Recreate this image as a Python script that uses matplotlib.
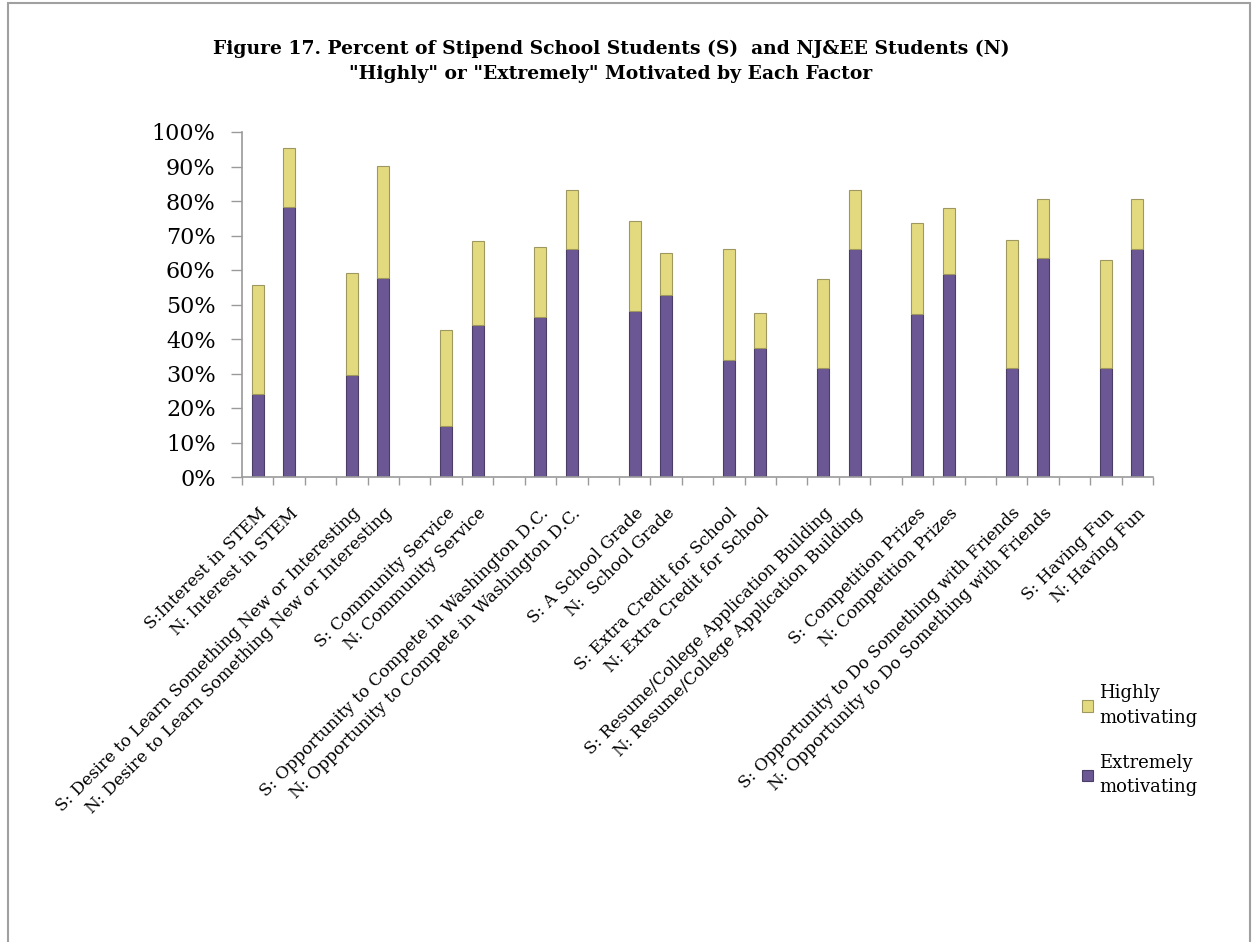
import matplotlib
matplotlib.use("Agg")
import matplotlib.pyplot as plt
from matplotlib.patches import Rectangle
import matplotlib.transforms as mtransforms
import numpy as np

# ---- data ----
factors = [
    ("S:Interest in STEM", "N: Interest in STEM"),
    ("S: Desire to Learn Something New or Interesting", "N: Desire to Learn Something New or Interesting"),
    ("S: Community Service", "N: Community Service"),
    ("S: Opportunity to Compete in Washington D.C.", "N: Opportunity to Compete in Washington D.C."),
    ("S: A School Grade", "N:  School Grade"),
    ("S: Extra Credit for School", "N: Extra Credit for School"),
    ("S: Resume/College Application Building", "N: Resume/College Application Building"),
    ("S: Competition Prizes", "N: Competition Prizes"),
    ("S: Opportunity to Do Something with Friends", "N: Opportunity to Do Something with Friends"),
    ("S: Having Fun", "N: Having Fun"),
]
# Extremely motivating (%) for S and N in each factor
extremely_S = [24.0, 29.5, 14.8, 46.4, 48.2, 34.0, 31.5, 47.2, 31.5, 31.5]
extremely_N = [78.3, 57.7, 44.1, 66.0, 52.7, 37.5, 66.1, 58.8, 63.6, 66.1]
# Total (Extremely + Highly) (%)
total_S = [55.6, 59.2, 42.5, 66.7, 74.3, 66.2, 57.4, 73.6, 68.7, 62.9]
total_N = [95.4, 90.2, 68.4, 83.1, 65.0, 47.5, 83.1, 78.1, 80.6, 80.6]
yticks = [0, 10, 20, 30, 40, 50, 60, 70, 80, 90, 100]
title = ('Figure 17. Percent of Stipend School Students (S)  and NJ&EE Students (N)\n'
         '"Highly" or "Extremely" Motivated by Each Factor')

# build category list (S, N, blank) ...
labels, ext, high = [], [], []
for i, (s, n) in enumerate(factors):
    labels += [s, n]
    ext += [extremely_S[i], extremely_N[i]]
    high += [total_S[i] - extremely_S[i], total_N[i] - extremely_N[i]]
    if i < len(factors) - 1:
        labels.append("")
        ext.append(np.nan)
        high.append(np.nan)
ext = np.array(ext) / 100
high = np.array(high) / 100
x = np.arange(len(labels))

purple = "#6b5793"
yellow = "#e3da7f"
serif = "DejaVu Serif"

fig = plt.figure(figsize=(12.57, 9.42), dpi=100)
ax = fig.add_axes([242/1257, 1-477/942, (1153-242)/1257, (477-132)/942])

bw = 0.38
b1 = ax.bar(x, np.nan_to_num(ext), width=bw, color=purple, edgecolor="#4a3d66",
            linewidth=0.8, label="Extremely\nmotivating")
b2 = ax.bar(x, np.nan_to_num(high), bottom=np.nan_to_num(ext), width=bw, color=yellow,
            edgecolor="#9e9860", linewidth=0.8, label="Highly\nmotivating")

ax.set_xlim(-0.5, len(labels) - 0.5)
ax.set_ylim(0, 1)
ax.set_yticks(np.array(yticks) / 100)
ax.set_yticklabels([f"{t}%" for t in yticks], fontsize=16, family=serif)
ax.set_xticks(x)
ax.set_xticklabels(labels, rotation=45, ha="right", va="top", rotation_mode="anchor",
                   fontsize=12.2, family=serif)
shift = mtransforms.ScaledTranslation(-4/100, 0, fig.dpi_scale_trans)
for lab in ax.get_xticklabels():
    lab.set_transform(lab.get_transform() + shift)
ax.set_xticks(np.arange(len(labels) + 1) - 0.5, minor=True)
ax.tick_params(axis="x", which="major", length=0, pad=20)
ax.tick_params(axis="x", which="minor", length=6, color="#9a9a9a", width=1)
ax.tick_params(axis="y", length=8, color="#9a9a9a", width=1, pad=11)
for sp in ["top", "right"]:
    ax.spines[sp].set_visible(False)
for sp in ["left", "bottom"]:
    ax.spines[sp].set_color("#9a9a9a")
    ax.spines[sp].set_linewidth(1.2)

fig.text(611/1257, 1-61/942, title, ha="center", va="center", fontsize=13.5,
         fontweight="bold", family=serif, linespacing=1.5)

handles = [b2, b1]
leg = fig.legend(handles, [h.get_label() for h in handles], loc="upper left",
                 bbox_to_anchor=(1066/1257, 1-668/942), frameon=False,
                 prop={"family": serif, "size": 13}, handlelength=0.6,
                 handleheight=0.6, handletextpad=0.35, labelspacing=1.5)
for t in leg.get_texts():
    t.set_linespacing(1.45)

fig.patches.append(Rectangle((8/1257, -0.05), (1250-8)/1257, 1.05 - 3/942,
                             transform=fig.transFigure, fill=False,
                             edgecolor="#a0a0a0", linewidth=1.5))

fig.savefig("out.png", dpi=100, facecolor="white")
